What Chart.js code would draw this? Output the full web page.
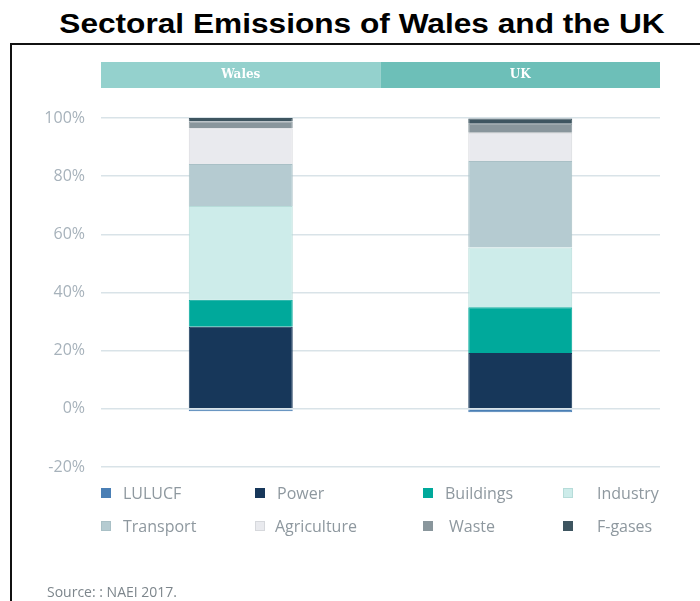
<!DOCTYPE html>
<html>
<head>
<meta charset="utf-8">
<script src="https://cdn.jsdelivr.net/npm/chart.js@4/dist/chart.umd.min.js"></script>
<style>
  body { margin: 0; background: #fff; width: 700px; height: 601px; overflow: hidden; position: relative; }
  #title { position: absolute; left: 12px; top: 8px; width: 700px; text-align: center;
    font: bold 28px "Liberation Sans", Arial, sans-serif; color: #000;
    transform: scaleX(1.13); transform-origin: 350px 0; }
  #frame { position: absolute; left: 10px; top: 43px; width: 700px; height: 600px;
    border-left: 2px solid #111; border-top: 2px solid #111; }
  #wrap { position: absolute; left: 0; top: 0; width: 700px; height: 601px; }
  #legend { position: absolute; left: 0; top: 0; width: 700px; height: 601px; pointer-events: none;
    font: 16px "Open Sans", sans-serif; color: #8e989f; }
  .item { position: absolute; white-space: nowrap; line-height: 20px; }
  .box { position: absolute; width: 10px; height: 10px; top: 5px; left: 0; }
  #source { position: absolute; left: 47px; top: 582px; font: 14px "Open Sans", sans-serif; color: #7d868c; }
</style>
</head>
<body>
<div id="title">Sectoral Emissions of Wales and the UK</div>
<div id="frame"></div>
<div id="wrap"><canvas id="chart" width="700" height="601"></canvas></div>
<div id="legend"></div>
<div id="source">Source: : NAEI 2017.</div>
<script>
const regions = ["Wales", "UK"];
const sectors = ["LULUCF", "Power", "Buildings", "Industry", "Transport", "Agriculture", "Waste", "F-gases"];
// shares of emissions, percent
const lulucf = [-0.8, -1.2];
const power = [28.2, 19.2];
const buildings = [9.3, 15.7];
const industry = [32.2, 20.6];
const transport = [14.5, 29.7];
const agriculture = [12.3, 9.7];
const waste = [2.3, 3.1];
const fgases = [1.2, 1.8];
const yTicks = [-20, 0, 20, 40, 60, 80, 100];

const colors = ["#4a7fb5", "#17375a", "#00a99b", "#cdecea", "#b5cbd1", "#e9eaee", "#89969c", "#3e5560"];
const borders = ["#4a7fb5", "#17375a", "#00a99b", "#b6dcd9", "#a9c0c6", "#d6d8dc", "#89969c", "#3e5560"];
const values = [lulucf, power, buildings, industry, transport, agriculture, waste, fgases];

const headerColors = ["#94d1cd", "#6dbfb8"];

const headerBand = {
  id: "headerBand",
  afterDraw(chart) {
    const ctx = chart.ctx;
    const x = chart.scales.x;
    const area = chart.chartArea;
    const n = regions.length;
    const w = (area.right - area.left) / n;
    ctx.save();
    regions.forEach((r, i) => {
      const left = x.getPixelForValue(i) - w / 2;
      ctx.fillStyle = headerColors[i];
      ctx.fillRect(left, 62, w, 26);
      ctx.fillStyle = "#fff";
      ctx.font = "bold 12px 'DejaVu Serif', serif";
      ctx.textAlign = "center";
      ctx.textBaseline = "middle";
      ctx.fillText(r, left + w / 2, 74.5);
    });
    ctx.restore();
  }
};

new Chart(document.getElementById("chart"), {
  type: "bar",
  data: {
    labels: regions,
    datasets: sectors.map((s, i) => ({
      label: s,
      data: values[i],
      backgroundColor: colors[i],
      borderColor: borders[i],
      borderWidth: 1,
      categoryPercentage: 1,
      barPercentage: 0.372,
    })),
  },
  options: {
    responsive: false,
    animation: false,
    layout: { padding: { left: 0, right: 40, top: 118, bottom: 134 } },
    plugins: { legend: { display: false }, tooltip: { enabled: false } },
    scales: {
      x: {
        stacked: true,
        display: false,
      },
      y: {
        stacked: true,
        min: -20,
        max: 100,
        afterFit: (s) => { s.width = 101; },
        afterBuildTicks: (s) => { s.ticks = yTicks.map((v) => ({ value: v })); },
        border: { display: false },
        grid: { color: "#d9e3e8", lineWidth: 1.5, drawTicks: false },
        ticks: {
          padding: 16,
          color: "#a7b2bb",
          font: { family: "Open Sans", size: 16 },
          callback: (v) => v + "%",
        },
      },
    },
  },
  plugins: [headerBand],
});

// legend, 2 rows x 4 columns
const legendCols = [101, 255, 423, 563];
const textOffsets = [22, 22, 22, 34, 22, 20, 26, 34];
const legendRows = [483, 516];
const legend = document.getElementById("legend");
sectors.forEach((s, i) => {
  const item = document.createElement("div");
  item.className = "item";
  item.style.left = legendCols[i % 4] + "px";
  item.style.top = legendRows[Math.floor(i / 4)] + "px";
  item.style.paddingLeft = textOffsets[i] + "px";
  const box = document.createElement("span");
  box.className = "box";
  box.style.background = colors[i];
  box.style.border = "1px solid " + borders[i];
  box.style.boxSizing = "border-box";
  item.appendChild(box);
  item.appendChild(document.createTextNode(s));
  legend.appendChild(item);
});
</script>
</body>
</html>
